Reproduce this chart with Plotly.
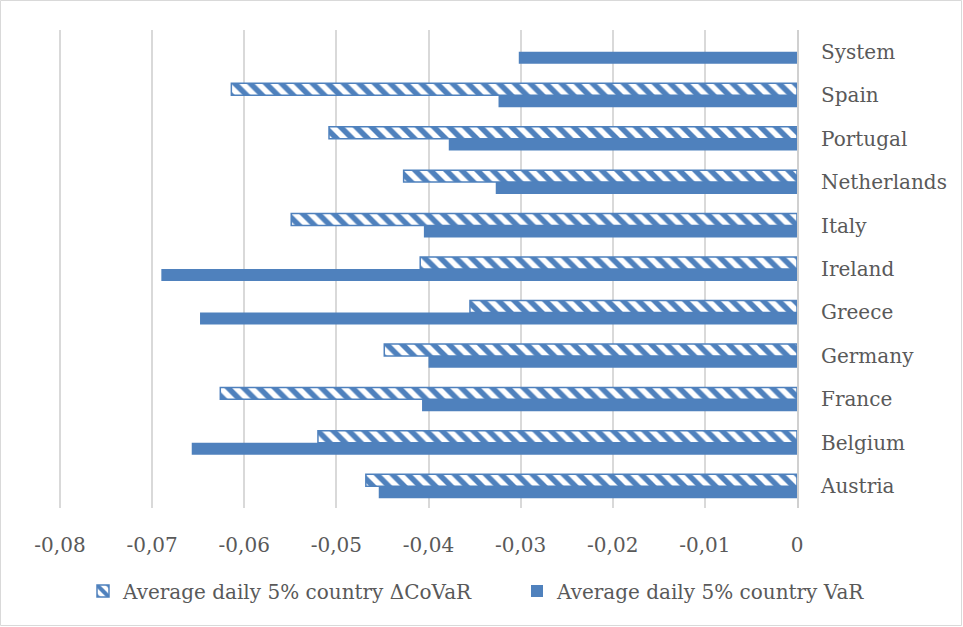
import plotly.graph_objects as go

countries = ["Austria", "Belgium", "France", "Germany", "Greece", "Ireland",
             "Italy", "Netherlands", "Portugal", "Spain", "System"]
covar = [-0.0468, -0.0520, -0.0626, -0.0448, -0.0355, -0.0409,
         -0.0549, -0.0427, -0.0508, -0.0614, None]
var = [-0.0454, -0.0657, -0.0407, -0.0400, -0.0648, -0.0690,
       -0.0405, -0.0327, -0.0378, -0.0324, -0.0302]
tick_vals = [-0.08, -0.07, -0.06, -0.05, -0.04, -0.03, -0.02, -0.01, 0]
tick_text = ["-0,08", "-0,07", "-0,06", "-0,05", "-0,04", "-0,03", "-0,02", "-0,01", "0"]
name_covar = "Average daily 5% country ΔCoVaR"
name_var = "Average daily 5% country VaR"

blue = "#4F81BD"
font_family = "DejaVu Serif"
text_color = "#595959"

fig = go.Figure()
fig.add_trace(go.Bar(
    y=countries, x=var, orientation="h", name=name_var,
    marker=dict(color=blue, line=dict(width=0)),
    legendrank=2,
))
fig.add_trace(go.Bar(
    y=countries, x=covar, orientation="h", name=name_covar,
    marker=dict(color="white", line=dict(color=blue, width=1.5),
                pattern=dict(shape="\\", fgcolor=blue, bgcolor="white",
                             size=11, solidity=0.5, fillmode="replace")),
    legendrank=1, legendwidth=389,
))

W, H = 963, 627
x_zero_px = 797
px_per_unit = 737 / 0.08
L = 57
R = W - x_zero_px
T, B = 30, 119
pw, ph = W - L - R, H - T - B
x_lo = -(x_zero_px - L) / px_per_unit

def px_to_paper_x(px):
    return (px - L) / pw

def py_to_paper_y(py):
    return (H - B - py) / ph

legend_right = 871

fig.update_layout(
    width=W, height=H,
    margin=dict(l=L, r=R, t=T, b=B, autoexpand=False),
    paper_bgcolor="white", plot_bgcolor="white",
    barmode="group", bargap=0.45, bargroupgap=0,
    font=dict(family=font_family, size=20, color=text_color),
    showlegend=True,
    legend=dict(orientation="h", xref="paper", yref="paper",
                x=px_to_paper_x(legend_right), y=py_to_paper_y(591),
                xanchor="right", yanchor="middle",
                bgcolor="rgba(0,0,0,0)",
                font=dict(size=20, color=text_color), itemwidth=30,
                traceorder="normal"),
    xaxis=dict(range=[x_lo, 0], tickvals=tick_vals, ticktext=tick_text,
               showgrid=True, gridcolor="#D9D9D9", gridwidth=2,
               zeroline=False, showline=False, ticks="",
               ticklabelstandoff=23, fixedrange=True),
    yaxis=dict(side="right", showgrid=False, zeroline=False,
               showline=True, linecolor="#D0D0D0", linewidth=2,
               ticks="", ticklabelstandoff=18, fixedrange=True),
    shapes=[dict(type="rect", xref="paper", yref="paper",
                 x0=px_to_paper_x(0.5), x1=px_to_paper_x(W - 1.5),
                 y0=py_to_paper_y(H - 1.5), y1=py_to_paper_y(0.5),
                 line=dict(color="#D9D9D9", width=1), layer="below")],
)

fig.write_html("out.html")
